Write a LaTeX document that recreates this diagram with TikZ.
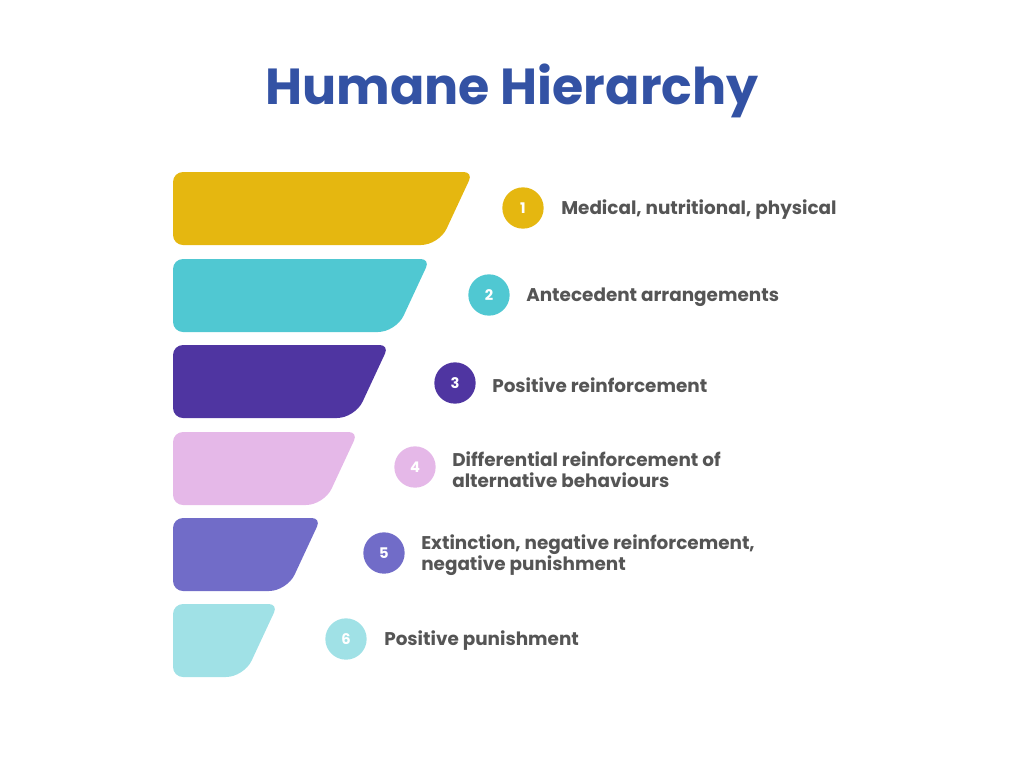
\documentclass[tikz,border=0pt]{standalone}
\usepackage{fontspec}
\setmainfont{Poppins}
\definecolor{titleblue}{HTML}{3352A4}
\definecolor{txtgray}{HTML}{555555}
\definecolor{cA}{HTML}{E5B710}
\definecolor{cB}{HTML}{50C8D2}
\definecolor{cC}{HTML}{4F35A1}
\definecolor{cD}{HTML}{E5B8E8}
\definecolor{cE}{HTML}{716CC8}
\definecolor{cF}{HTML}{A0E1E6}
\tikzset{
  numdot/.style={circle, minimum size=31pt, inner sep=0pt, text=white, font=\bfseries\fontsize{11}{13}\selectfont},
  lbl/.style={anchor=west, text=txtgray, align=left, inner sep=0pt, font=\bfseries\fontsize{13.8}{15.8}\selectfont},
}
\newcommand{\hierbar}[4]{% top y, top-right x, color, name
  \fill[#3, rounded corners=7pt] (220,#1) -- (#2,#1) [rounded corners=13.5pt] -- (#2-34,#1+73) [rounded corners=7.5pt] -- (173,#1+73) -- (173,#1) -- (200,#1) -- cycle;
  \coordinate (#4) at (173,#1+36);
}
\begin{document}
\begin{tikzpicture}[x=0.75pt,y=-0.75pt]
\useasboundingbox (0,0) rectangle (1024,768);
\node[text=titleblue, font=\bfseries\fontsize{38}{44}\selectfont] (title) at (512,91) {Humane Hierarchy};
\hierbar{172}{473}{cA}{b1}
\hierbar{259}{430}{cB}{b2}
\hierbar{345}{389}{cC}{b3}
\hierbar{432}{358}{cD}{b4}
\hierbar{518}{321}{cE}{b5}
\hierbar{604}{278}{cF}{b6}
\node[numdot, fill=cA] (n1) at (523,208) {1};
\node[numdot, fill=cB] (n2) at (489,295) {2};
\node[numdot, fill=cC] (n3) at (455,383) {3};
\node[numdot, fill=cD] (n4) at (415,467) {4};
\node[numdot, fill=cE] (n5) at (384,553) {5};
\node[numdot, fill=cF] (n6) at (346,639) {6};
\node[lbl] (t1) at (561,210) {Medical, nutritional, physical};
\node[lbl] (t2) at (526,297) {Antecedent arrangements};
\node[lbl] (t3) at (492,385) {Positive reinforcement};
\node[lbl] (t4) at (452,470) {Differential reinforcement of\\alternative behaviours};
\node[lbl] (t5) at (421,555) {Extinction, negative reinforcement,\\negative punishment};
\node[lbl] (t6) at (384,641) {Positive punishment};
\end{tikzpicture}
\end{document}
